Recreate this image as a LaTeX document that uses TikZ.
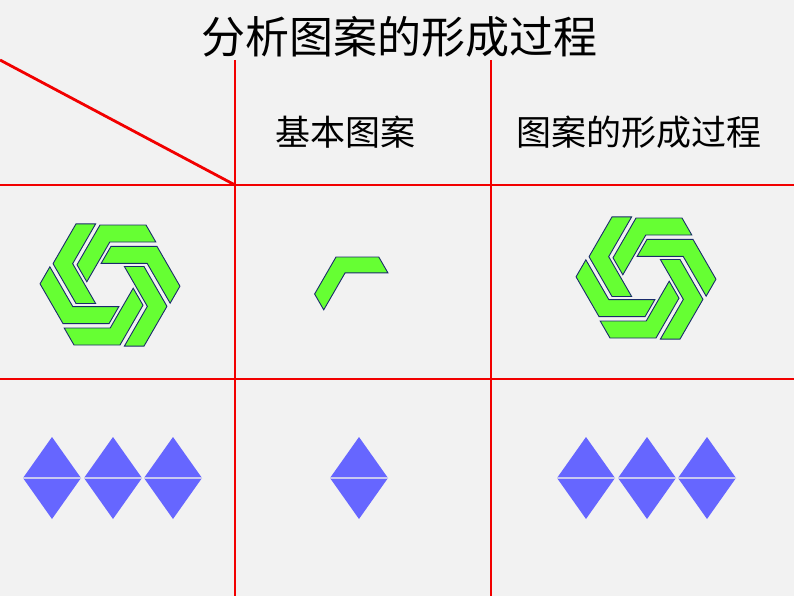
\documentclass[tikz,border=0pt]{standalone}
\usepackage{fontspec}
\newfontfamily\cjk{Noto Sans CJK SC}
\definecolor{bg}{HTML}{F2F2F2}
\definecolor{gr}{HTML}{66FF33}
\definecolor{ol}{HTML}{1A2A6C}
\definecolor{bl}{HTML}{6666FF}
\definecolor{bll}{HTML}{C8C8F0}
\tikzset{grid/.style={draw=red!95!black,line width=2.8pt},
  piece/.style={fill=gr,draw=ol,line width=0.9pt,line join=miter},
  tri/.style={fill=bl},
  title/.style={font=\cjk\fontsize{44}{48}\selectfont,inner sep=0},
  head/.style={font=\cjk\fontsize{35}{40}\selectfont,inner sep=0}}
\newcommand{\chev}{\path[piece] (0,0) -- (46,0) -- ({46+0.577*17},-17) -- ({0.577*17},-17) -- ({-23+0.577*17},{-39.8-17}) -- (-23,-39.8) -- cycle;}
\newcommand{\pinwheel}[2]{\foreach \k in {0,...,5}{\begin{scope}[shift={(#1,#2)},yscale=-1,rotate=60*\k,shift={(-10,60)}]\chev\end{scope}}}
\newcommand{\diam}[1]{\path[tri] (#1-29,478) -- (#1,437) -- (#1+29,478) -- cycle; \path[tri] (#1-29,478) -- (#1,519) -- (#1+29,478) -- cycle; \draw[bll,line width=1.2pt] (#1-29,478) -- (#1+29,478);}
\begin{document}
\begin{tikzpicture}[x=1pt,y=-1pt]
\path[fill=bg] (0,0) rectangle (794,596);
\useasboundingbox (0,0) rectangle (794,596);
\node[title] (t) at (399,37) {分析图案的形成过程};
\node[head] (h1) at (345,132) {基本图案};
\node[head] (h2) at (639,132) {图案的形成过程};
\coordinate (a) at (0,60); \coordinate (b) at (235,185);
\draw[grid] (a) -- (b);
\draw[grid] (0,185) -- (794,185);
\draw[grid] (0,379) -- (794,379);
\draw[grid] (235,60) -- (235,596);
\draw[grid] (491,60) -- (491,596);
\pinwheel{110}{285}
\pinwheel{646}{278}
\begin{scope}[shift={(336,257)},yscale=-1,scale=0.93]\chev\end{scope}
\diam{52}\diam{113}\diam{173}
\diam{359}
\diam{586}\diam{647}\diam{707}
\end{tikzpicture}
\end{document}
